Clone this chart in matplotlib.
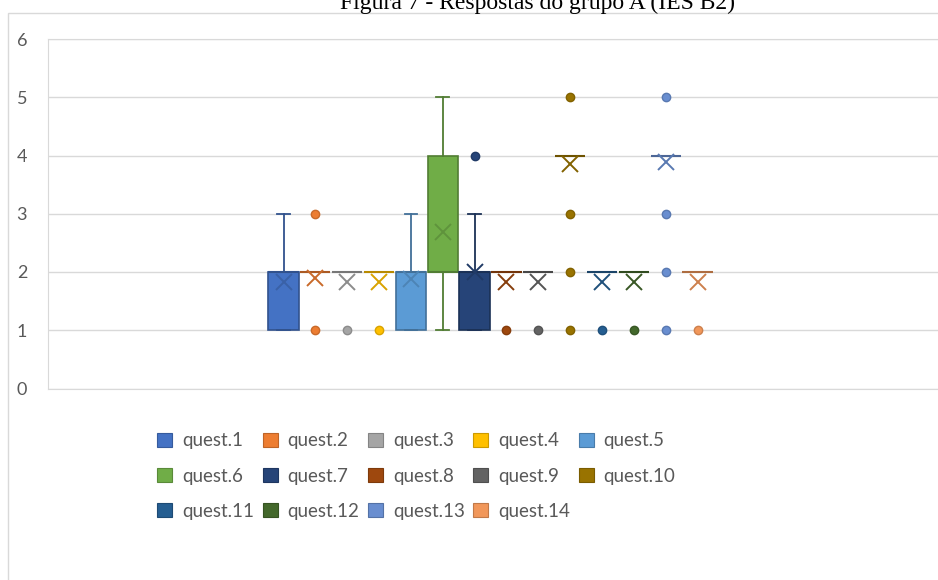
import numpy as np
import matplotlib
matplotlib.use('Agg')
import matplotlib.pyplot as plt
from matplotlib.patches import Rectangle, Patch
from matplotlib.colors import to_rgb

# ---- dados (respostas por questão, escala 0-6) ----
labels = [f'quest.{i}' for i in range(1, 15)]
colors = ['#4472C4', '#ED7D31', '#A5A5A5', '#FFC000', '#5B9BD5', '#70AD47', '#264478',
          '#9E480E', '#636363', '#997300', '#255E91', '#43682B', '#698ED0', '#F1975A']

q1     = [1, 2, 2, 2, 1, 2, 1, 2, 2, 4, 2, 2, 4, 2]
median = [2, 2, 2, 2, 2, 2, 2, 2, 2, 4, 2, 2, 4, 2]
q3     = [2, 2, 2, 2, 2, 4, 2, 2, 2, 4, 2, 2, 4, 2]
whislo = [1, 2, 2, 2, 1, 1, 1, 2, 2, 4, 2, 2, 4, 2]
whishi = [3, 2, 2, 2, 3, 5, 3, 2, 2, 4, 2, 2, 4, 2]
means  = [1.82, 1.90, 1.83, 1.83, 1.88, 2.68, 2.00, 1.83, 1.83, 3.86, 1.83, 1.83, 3.88, 1.83]
outliers = [[], [1, 3], [1], [1], [], [], [4], [1], [1], [1, 2, 3, 5],
            [1], [1], [1, 2, 3, 5], [1]]

yticks = [0, 1, 2, 3, 4, 5, 6]


def shade(c, f):
    return tuple(np.array(to_rgb(c)) * f)


W, H = 938, 580
fig = plt.figure(figsize=(W / 100, H / 100), dpi=100)
fig.patch.set_facecolor('white')

# moldura do gráfico (estilo Excel)
fig.add_artist(Rectangle((8 / W, -0.1), 2, 1 - 13 / H + 0.1, transform=fig.transFigure,
                         fill=False, edgecolor='#d9d9d9', linewidth=1))

fig.text(537 / W, 1 - 9 / H, 'Figura 7 - Respostas do grupo A (IES B2)',
         ha='center', va='baseline', fontsize=17, family='Liberation Serif', color='black')

ax_left, ax_top, ax_bot = 48, 39, 388.5
ax_w = (W - ax_left) + 20
ax = fig.add_axes([ax_left / W, 1 - ax_bot / H, ax_w / W, (ax_bot - ax_top) / H])

positions = np.arange(1, len(labels) + 1)
for i, pos in enumerate(positions):
    c = colors[i]
    line_c = shade(c, 0.72)
    stats = [dict(med=median[i], q1=q1[i], q3=q3[i], whislo=whislo[i], whishi=whishi[i],
                  mean=means[i], fliers=outliers[i], label=labels[i])]
    ax.bxp(stats, positions=[pos], widths=0.95, capwidths=0.4, patch_artist=True,
           showmeans=True, manage_ticks=False,
           boxprops=dict(facecolor=c, edgecolor=line_c, linewidth=1.2),
           medianprops=dict(color=line_c, linewidth=1.5),
           whiskerprops=dict(color=line_c, linewidth=1.3),
           capprops=dict(color=line_c, linewidth=1.3),
           meanprops=dict(marker='x', markeredgecolor=shade(c, 0.85), markersize=12,
                          markeredgewidth=1.4, linestyle='none'),
           flierprops=dict(marker='o', markerfacecolor=c, markeredgecolor=shade(c, 0.85),
                           markersize=6, linestyle='none'))

# escala x: 31.85 px entre caixas, primeira caixa centrada em x=283.5 px
pitch = 31.85
x_lo = 1 - (283.5 - ax_left) / pitch
ax.set_xlim(x_lo, x_lo + ax_w / pitch)
ax.set_ylim(0, 6)
ax.set_yticks(yticks)
ax.set_yticklabels([str(v) for v in yticks], family='Lato', fontsize=13, color='#595959')
ax.set_xticks([])
ax.tick_params(axis='y', length=0, pad=15)
ax.yaxis.grid(True, color='#d9d9d9', linewidth=1)
ax.set_axisbelow(True)
for side in ['top', 'bottom', 'left']:
    ax.spines[side].set_color('#d9d9d9')
ax.spines['right'].set_visible(False)

# legenda preenchida por linhas (5 colunas), como no Excel
ncol, nrow = 5, 3
order = [r * ncol + k for k in range(ncol) for r in range(nrow) if r * ncol + k < len(labels)]
handles = [Patch(facecolor=colors[j], edgecolor=shade(colors[j], 0.8), linewidth=0.8)
           for j in order]
leg = fig.legend(handles, [labels[j] for j in order], ncol=ncol, loc='upper left',
                 bbox_to_anchor=(148 / W, 1 - 423 / H), frameon=False,
                 prop=dict(family='Lato', size=13.5), labelcolor='#595959',
                 handlelength=0.8, handleheight=0.8, handletextpad=0.53,
                 columnspacing=0.45, labelspacing=0.97, borderpad=0)

fig.savefig('out.png', dpi=100, facecolor='white')
